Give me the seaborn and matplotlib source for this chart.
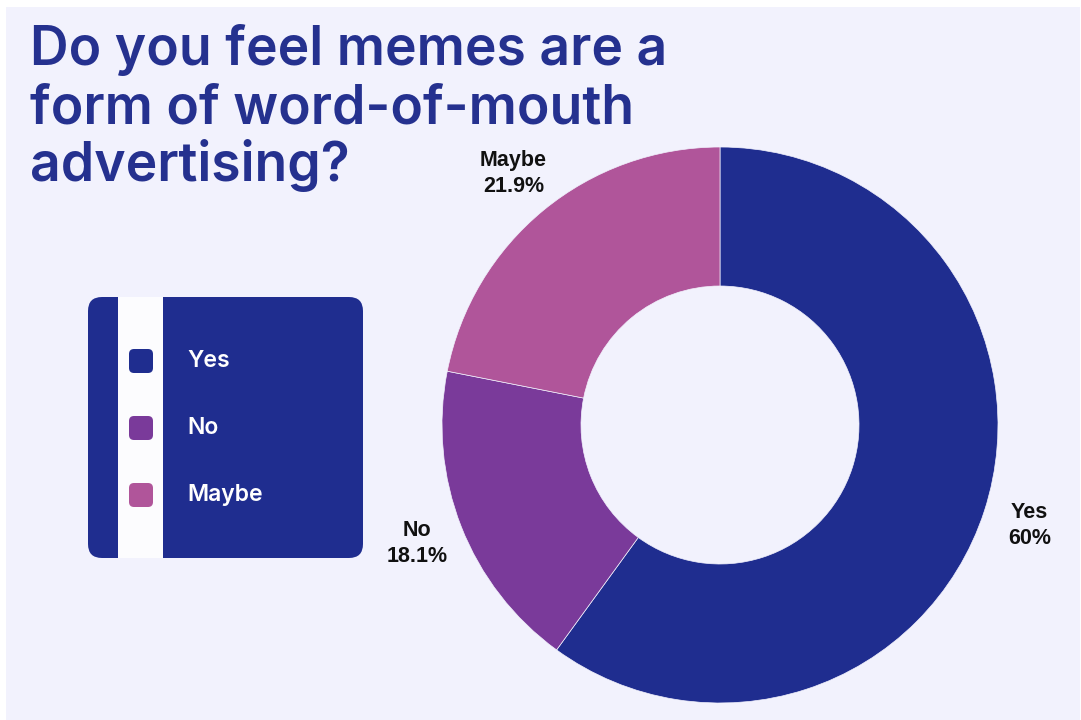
import matplotlib
matplotlib.use("Agg")
import matplotlib.pyplot as plt
from matplotlib.patches import FancyBboxPatch, Rectangle
import seaborn as sns

# Survey answers and their shares (%)
categories = ["Yes", "No", "Maybe"]
shares = [60, 18.1, 21.9]
slice_colors = ["#1f2d8f", "#7a3a9a", "#b0559a"]
title_lines = ["Do you feel memes are a", "form of word-of-mouth", "advertising?"]

sns.set_theme(style="white")
palette = sns.color_palette(slice_colors)

BG = "#f2f2fd"
NAVY = "#1f2d8f"
W, H = 1081, 720

fig = plt.figure(figsize=(W / 100, H / 100), dpi=100, facecolor="white")
ax = fig.add_axes([0, 0, 1, 1])
ax.set_facecolor("white")

# lavender panel
ax.add_patch(Rectangle((6, 0), W - 7, H - 7, facecolor=BG, edgecolor="none", zorder=0))

# donut
labels = [f"{c}\n{v:g}%" for c, v in zip(categories, shares)]
wedges, texts = ax.pie(
    shares,
    labels=labels,
    colors=palette,
    startangle=90,
    counterclock=False,
    radius=278,
    center=(720, 295),
    labeldistance=1.17,
    wedgeprops=dict(width=139, edgecolor=BG, linewidth=0.5),
    textprops=dict(fontsize=15.5, fontweight="bold", color="#111111",
                   family="Liberation Sans", linespacing=1.3),
    frame=True,
)
for t in texts:
    t.set_horizontalalignment("center")
    t.set_verticalalignment("center")

ax.set_xlim(0, W)
ax.set_ylim(0, H)
ax.set_aspect("equal")
ax.axis("off")

# title, one text per line
for i, line in enumerate(title_lines):
    fig.text(30 / W, 1 - (65 + 58 * i) / H, line, ha="left", va="baseline",
             fontsize=38.5, color="#25318f", family="Inter",
             fontweight="semibold")

# legend card
ax.add_patch(FancyBboxPatch((88 + 14, H - 558 + 14), 275 - 28, 261 - 28,
                            boxstyle="round,pad=14", facecolor=NAVY,
                            edgecolor="none", zorder=2))
ax.add_patch(Rectangle((118, H - 558), 45, 261, facecolor="#fcfcfe",
                       edgecolor="none", zorder=3))
for i, (cat, col) in enumerate(zip(categories, palette)):
    yc = H - (361 + 67 * i)
    ax.add_patch(FancyBboxPatch((141 - 12 + 5, yc - 12 + 5), 14, 14,
                                boxstyle="round,pad=5", facecolor=col,
                                edgecolor="none", zorder=4))
    ax.text(187, yc, cat, ha="left", va="center", color="white",
            fontsize=16.5, family="Inter", fontweight="semibold", zorder=5)

fig.savefig("out.png", dpi=100, facecolor=fig.get_facecolor())
